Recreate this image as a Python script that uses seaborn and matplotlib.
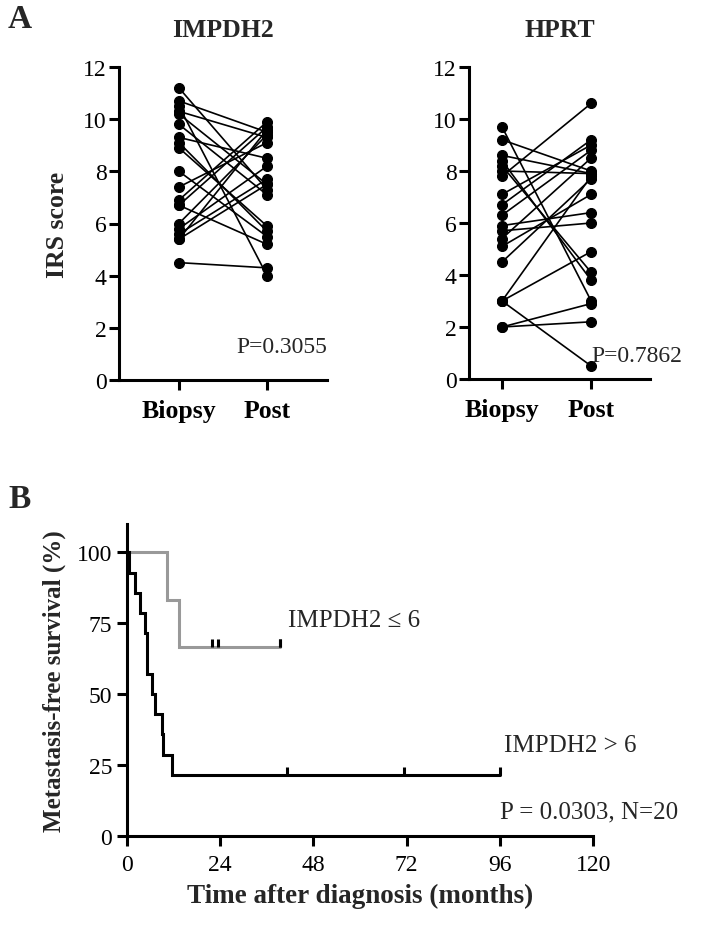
import numpy as np
import pandas as pd
import seaborn as sns
import matplotlib.pyplot as plt

# Panel A: paired IRS scores (Biopsy -> Post), one entry per patient
impdh2_biopsy = [11.2, 10.7, 10.5, 10.3, 10.2, 9.8, 9.3, 9.1, 8.9, 8.0,
                 7.4, 6.9, 6.7, 6.7, 6.0, 5.8, 5.6, 5.4, 5.4, 4.5]
impdh2_post = [7.3, 9.5, 4.0, 9.3, 7.5, 7.1, 8.5, 5.7, 5.9, 5.5,
               9.1, 9.9, 9.7, 5.2, 9.4, 8.2, 7.7, 9.6, 7.5, 4.3]
hprt_biopsy = [9.7, 9.2, 8.6, 8.4, 8.2, 8.0, 7.8, 7.1, 6.7, 6.3,
               5.9, 5.7, 5.4, 5.1, 4.5, 3.0, 3.0, 3.0, 2.0, 2.0]
hprt_post = [3.0, 8.0, 7.9, 3.8, 4.1, 7.9, 10.6, 9.0, 9.2, 8.8,
             6.4, 6.0, 8.5, 7.1, 7.7, 7.8, 4.9, 0.5, 2.9, 2.2]
timepoints = ["Biopsy", "Post"]
p_impdh2 = "P=0.3055"
p_hprt = "P=0.7862"

# Panel B: Kaplan-Meier, times in months
low_events = [10.3, 13.4]
low_censored = [22.0, 23.6, 39.4, 39.4]
high_events = [0.5, 2.1, 3.4, 4.7, 5.1, 5.1, 6.4, 7.3, 9.0, 9.4, 11.6]
high_censored = [41.1, 71.3, 96.0]
km_xticks = [0, 24, 48, 72, 96, 120]
km_yticks = [0, 25, 50, 75, 100]

sns.set_style("ticks")
plt.rcParams['font.family'] = ['Liberation Serif', 'DejaVu Serif']
plt.rcParams['axes.linewidth'] = 2.2
plt.rcParams['xtick.major.width'] = 2.2
plt.rcParams['ytick.major.width'] = 2.2
plt.rcParams['xtick.major.size'] = 7
plt.rcParams['ytick.major.size'] = 7
plt.rcParams['xtick.color'] = 'black'
plt.rcParams['ytick.color'] = 'black'
plt.rcParams['axes.edgecolor'] = 'black'

fig = plt.figure(figsize=(7.1, 9.28), dpi=100)
W, H = 710, 928


def px_axes(x0, y_top, x1, y_bot):
    return fig.add_axes([x0 / W, 1 - y_bot / H, (x1 - x0) / W, (y_bot - y_top) / H])


def paired(ax, biopsy, post, title, ptxt, xlim, ylabel=None):
    n = len(biopsy)
    df = pd.DataFrame({
        "patient": list(range(n)) * 2,
        "pos": [0] * n + [1] * n,
        "score": list(biopsy) + list(post),
    })
    sns.lineplot(data=df, x="pos", y="score", units="patient", estimator=None,
                 color="black", lw=1.2, marker="o", markersize=7.2,
                 markeredgecolor="black", ax=ax, legend=False)
    ax.set_xlim(*xlim)
    ax.set_ylim(0, 12)
    ax.set_yticks(range(0, 13, 2))
    ax.set_xticks([0, 1])
    ax.set_xticklabels(timepoints, fontsize=18.5, fontweight="bold")
    ax.tick_params(axis="y", labelsize=17, pad=2)
    ax.tick_params(axis="x", pad=7)
    ax.set_xlabel("")
    ax.set_ylabel(ylabel if ylabel else "", fontsize=18.5, fontweight="bold", labelpad=10)
    ax.set_title(title, fontsize=18.5, fontweight="bold", pad=22)
    sns.despine(ax=ax)


ax1 = px_axes(119, 68, 327, 381)
paired(ax1, impdh2_biopsy, impdh2_post, "IMPDH2", p_impdh2, (-0.68, 1.68), "IRS score")
ax1.text(1.68, 0.9, p_impdh2, fontsize=17, ha="right", va="bottom")
ax2 = px_axes(469, 68, 650, 380)
paired(ax2, hprt_biopsy, hprt_post, "HPRT", p_hprt, (-0.37, 1.66))
ax2.text(2.02, 0.5, p_hprt, fontsize=17, ha="right", va="bottom")


def km_curve(events, censored):
    times = sorted(set(events + censored))
    n = len(events) + len(censored)
    xs, ys = [0.0], [100.0]
    s = 1.0
    at_risk = n
    for t in times:
        d = events.count(t)
        c = censored.count(t)
        if d:
            s *= (at_risk - d) / at_risk
        xs.append(t)
        ys.append(s * 100)
        at_risk -= d + c
    return np.array(xs), np.array(ys)


def surv_at(xs, ys, t):
    idx = np.searchsorted(xs, t, side="right") - 1
    return ys[idx]


ax3 = px_axes(126.7, 525, 593.3, 836.7)
censor_mark = [(0, 0), (0, 1)]
for events, censored, col in [(low_events, low_censored, "#999999"),
                              (high_events, high_censored, "black")]:
    xs, ys = km_curve(events, censored)
    ax3.step(xs, ys, where="post", color=col, lw=2.2, solid_joinstyle="miter")
    cy = [surv_at(xs, ys, t) for t in censored]
    ax3.plot(censored, cy, ls="none", marker=censor_mark, markersize=11,
             mew=2.2, color="black")

ax3.set_xlim(0, 120)
ax3.set_ylim(0, 110)
ax3.set_xticks(km_xticks)
ax3.set_yticks(km_yticks)
ax3.tick_params(labelsize=17)
ax3.tick_params(axis="x", pad=6)
ax3.set_xlabel("Time after diagnosis (months)", fontsize=19.5, fontweight="bold", labelpad=6)
ax3.set_ylabel("Metastasis-free survival (%)", fontsize=18, fontweight="bold", labelpad=8)
sns.despine(ax=ax3)
ax3.text(41.5, 76, "IMPDH2 \u2264 6", fontsize=18, va="center")
ax3.text(97, 32, "IMPDH2 > 6", fontsize=18, va="center")
ax3.text(96, 8.5, "P = 0.0303, N=20", fontsize=18, va="center")

fig.text(8 / W, 1 - 20 / H, "A", fontsize=24, fontweight="bold", va="center")
fig.text(8 / W, 1 - 500 / H, "B", fontsize=24, fontweight="bold", va="center")

fig.savefig("out.png", dpi=100)
